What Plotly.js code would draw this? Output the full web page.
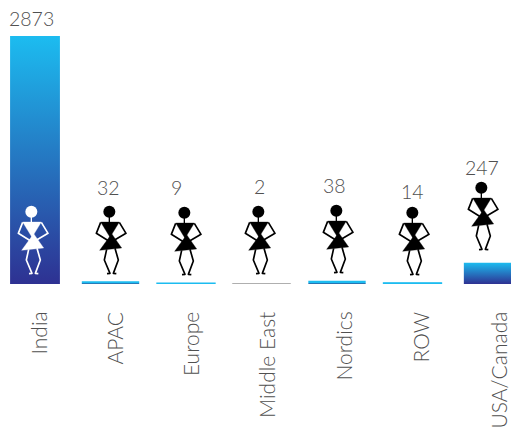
<!DOCTYPE html>
<html><head><meta charset="utf-8">
<script src="https://cdn.plot.ly/plotly-3.0.0.min.js"></script>
<style>html,body{margin:0;padding:0;background:#fff}</style>
</head><body><div id="chart" style="width:511px;height:430px"></div>
<script>
var categories = ["India","APAC","Europe","Middle East","Nordics","ROW","USA/Canada"];
var values = [2873,32,9,2,38,14,247];
var barWidths = [0.66,0.76,0.77,0.77,0.76,0.77,0.64];
var barColors = ['#1cbcf0','#1cbcf0','#1cbcf0','#9a9a9a','#1cbcf0','#1cbcf0','#1cbcf0'];
var barOutline = [0,0,1.2,0.8,0,1.2,0];
var valueLabelX = [31,108,176,259,334,412,482];
var valueLabelY = [19,187,187,186,185,191,167];
var catLabelX = [38,114,190,266,343,420,498];
var figureX = [33,111,186,260,338,414,483];
var figureTop = [205,205,206,205,204,206,181];

var W=511,H=430,top0=36,bottom0=284,step=75.5,first=35;
function figure(color){
  var s = '<svg xmlns="http://www.w3.org/2000/svg" width="96" height="210" viewBox="0 0 96 210">'+
   '<g fill="'+color+'" stroke="'+color+'" stroke-linejoin="round">'+
   '<circle cx="43" cy="20" r="18" stroke="none"/>'+
   '<path d="M43 36V54" fill="none" stroke-width="4"/>'+
   '<path d="M17 51H73L45 97Z" stroke-width="1"/>'+
   '<path d="M50 86L14 136L80 129Z" stroke-width="1"/>'+
   '<path d="M17 52L4 85L40 107M73 52L93 85L55 107" fill="none" stroke-width="5"/>'+
   '<path d="M35 133L28 165L45 205L36 206M60 130L70 165L55 205L64 206" fill="none" stroke-width="5"/>'+
   '</g></svg>';
  return 'data:image/svg+xml;charset=utf-8,'+encodeURIComponent(s);
}
var images = categories.map(function(c,i){
  return {source:figure(i===0?'#ffffff':'#000000'),xref:'paper',yref:'paper',
    x:figureX[i]/W,y:(bottom0-figureTop[i])/(bottom0-top0),
    sizex:32/W,sizey:70/(bottom0-top0),sizing:'stretch',xanchor:'center',yanchor:'top',layer:'above'};
});
var valueFont={family:'Lato, sans-serif',size:19.5,color:'#505050',weight:300};
var catFont={family:'Lato, sans-serif',size:21,color:'#505050',weight:300};
var annotations = [];
categories.forEach(function(c,i){
  annotations.push({text:String(values[i]),xref:'paper',yref:'paper',
    x:valueLabelX[i]/W,y:(bottom0-valueLabelY[i])/(bottom0-top0),
    xanchor:'center',yanchor:'middle',showarrow:false,font:valueFont});
  annotations.push({text:c,xref:'paper',yref:'paper',
    x:catLabelX[i]/W,y:(bottom0-310)/(bottom0-top0),
    xanchor:'center',yanchor:'top',textangle:-90,showarrow:false,font:catFont});
});
Plotly.newPlot('chart',[{type:'bar',x:categories,y:values,width:barWidths,
  marker:{color:barColors,line:{width:barOutline,color:barColors}},hoverinfo:'x+y'}],{
  width:W,height:H,margin:{l:0,r:0,t:top0,b:H-bottom0,pad:0},
  paper_bgcolor:'#ffffff',plot_bgcolor:'#ffffff',showlegend:false,
  xaxis:{type:'category',range:[-first/step,(W-first)/step],showticklabels:false,ticks:'',showgrid:false,zeroline:false,showline:false,categoryorder:'array',categoryarray:categories},
  yaxis:{range:[0,2873],visible:false,showgrid:false,zeroline:false},
  images:images,annotations:annotations
},{displayModeBar:false,staticPlot:true}).then(function(gd){
  var NS='http://www.w3.org/2000/svg';
  var svg=gd.querySelector('svg.main-svg');
  var defs=svg.querySelector('defs')||svg.insertBefore(document.createElementNS(NS,'defs'),svg.firstChild);
  function grad(id,stops){
    var g=document.createElementNS(NS,'linearGradient');
    g.setAttribute('id',id);g.setAttribute('x1','0');g.setAttribute('y1','0');g.setAttribute('x2','0');g.setAttribute('y2','1');
    stops.forEach(function(p){
      var st=document.createElementNS(NS,'stop');st.setAttribute('offset',p[0]);st.setAttribute('stop-color',p[1]);g.appendChild(st);});
    defs.appendChild(g);
  }
  grad('barGrad',[['0','#1cbcf0'],['1','#2e3192']]);
  grad('thinGrad',[['0','#1cbcf0'],['0.55','#1cbcf0'],['1','#2e4f92']]);
  gd.querySelectorAll('.barlayer .point path').forEach(function(p,i){
    if(!barOutline[i]) p.style.fill=values[i]<100?'url(#thinGrad)':'url(#barGrad)';
  });
});
</script></body></html>
